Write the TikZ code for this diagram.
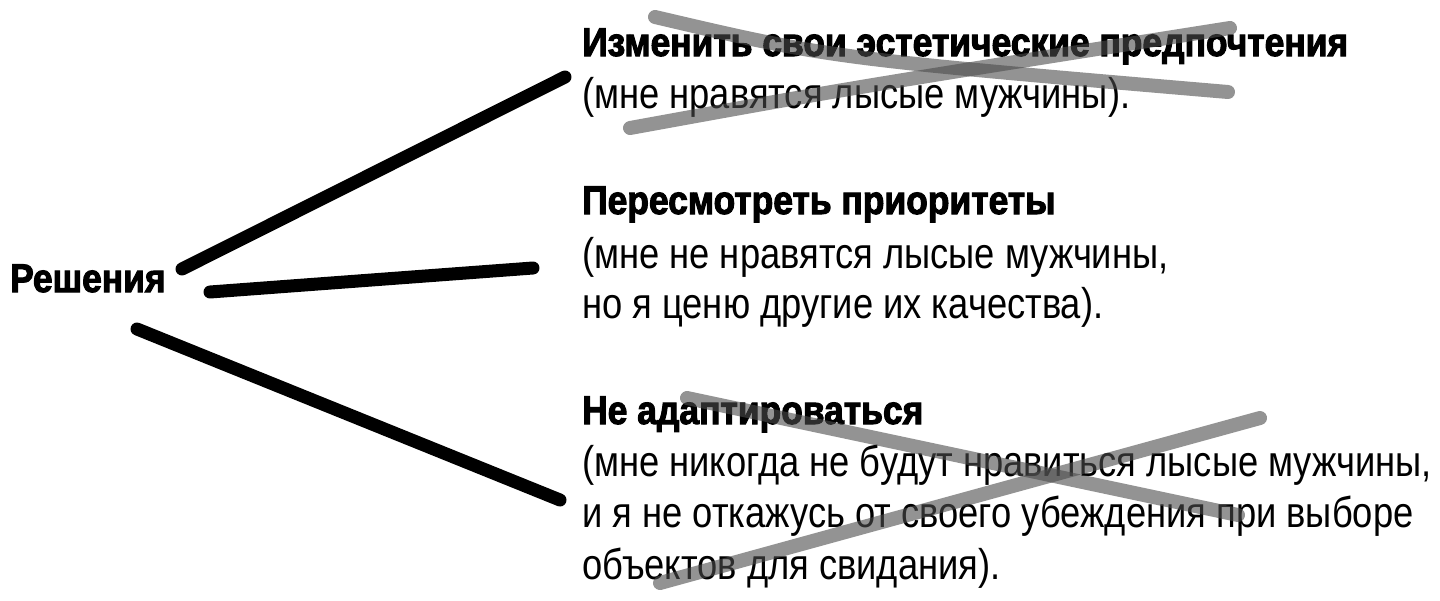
\documentclass[tikz,border=0pt]{standalone}
\usepackage{fontspec}
\setmainfont{Liberation Sans}
\newfontfamily\regfont[FakeStretch=0.845]{Liberation Sans}
\newfontfamily\hdfont[FakeStretch=0.885,FakeBold=2.5]{Liberation Sans Bold}
\tikzset{
  hd/.style={anchor=base west, inner sep=0pt, font=\hdfont\fontsize{40}{42}\selectfont},
  tx/.style={anchor=base west, inner sep=0pt, font=\regfont\fontsize{43}{50}\selectfont},
  link/.style={line width=13pt, line cap=round, draw=black},
  cross/.style={line width=14pt, line cap=round, draw=black!70, opacity=0.6}
}
\begin{document}
\begin{tikzpicture}[x=1pt,y=-1pt]
\useasboundingbox (0,0) rectangle (1440,600);
\fill[white] (0,0) rectangle (1440,600);
% texts
\node[hd] (root) at (10,292) {Решения};
\node[hd] (h1) at (582,56) {Изменить свои эстетические предпочтения};
\node[tx] (t1) at (582,108) {(мне нравятся лысые мужчины).};
\node[hd] (h2) at (582,214) {Пересмотреть приоритеты};
\node[tx] (t2a) at (582,268) {(мне не нравятся лысые мужчины,};
\node[tx] (t2b) at (582,318) {но я ценю другие их качества).};
\node[hd] (h3) at (582,424) {Не адаптироваться};
\node[tx] (t3a) at (582,476) {(мне никогда не будут нравиться лысые мужчины,};
\node[tx] (t3b) at (582,527) {и я не откажусь от своего убеждения при выборе};
\node[tx] (t3c) at (582,579) {объектов для свидания).};
% connector ends
\coordinate (s1) at (182,269);
\coordinate (e1) at (565,77);
\coordinate (s2) at (210,292);
\coordinate (e2) at (533,268);
\coordinate (s3) at (137,329);
\coordinate (e3) at (560,500);
\draw[link] (s1) -- (e1);
\draw[link] (s2) -- (e2);
\draw[link] (s3) -- (e3);
% cross-outs
\coordinate (xa1) at (655,17);
\coordinate (xa2) at (1228,92);
\coordinate (xb1) at (630,128);
\coordinate (xb2) at (1230,28);
\coordinate (xc1) at (687,398);
\coordinate (xc2) at (1238,515);
\coordinate (xd1) at (660,583);
\coordinate (xd2) at (1260,418);
\draw[cross] (xa1) .. controls (830,58) .. (xa2);
\draw[cross] (xb1) .. controls (850,88) .. (xb2);
\draw[cross] (xc1) -- (xc2);
\draw[cross] (xd1) -- (xd2);
\end{tikzpicture}
\end{document}
